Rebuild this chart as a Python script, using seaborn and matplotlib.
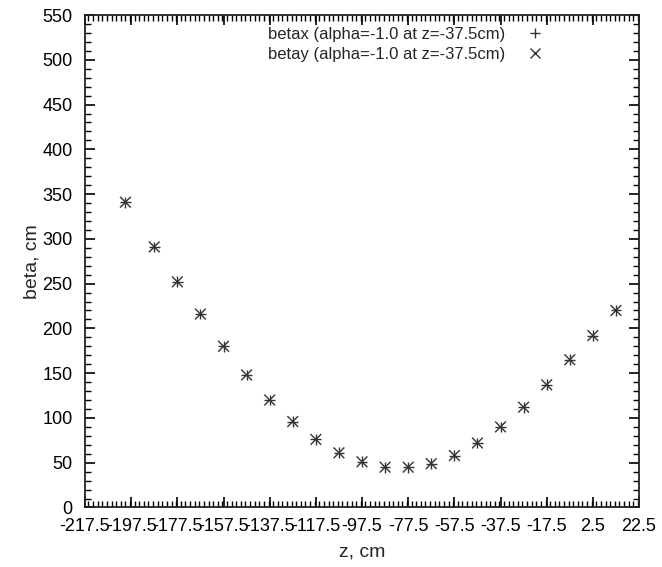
import numpy as np
import pandas as pd
import seaborn as sns
import matplotlib
matplotlib.use('Agg')
import matplotlib.pyplot as plt
from matplotlib.ticker import MultipleLocator, FixedLocator

# z positions (cm) and beta values
z = [-200.0, -187.5, -177.5, -167.5, -157.5, -147.5, -137.5, -127.5, -117.5, -107.5,
     -97.5, -87.5, -77.5, -67.5, -57.5, -47.5, -37.5, -27.5, -17.5, -7.5, 2.5, 12.5]
betax = [341, 291, 252, 216, 180, 148, 120, 96, 76, 61,
         51, 45, 45, 49, 58, 72, 90, 112, 137, 165, 192, 220]
betay = [341, 291, 252, 216, 180, 148, 120, 96, 76, 61,
         51, 45, 45, 49, 58, 72, 90, 112, 137, 165, 192, 220]
labels = ['betax (alpha=-1.0 at z=-37.5cm)', 'betay (alpha=-1.0 at z=-37.5cm)']
xticks = [-217.5, -197.5, -177.5, -157.5, -137.5, -117.5, -97.5, -77.5, -57.5, -37.5, -17.5, 2.5, 22.5]

df = pd.concat([
    pd.DataFrame({'z': z, 'beta': betax, 'series': labels[0]}),
    pd.DataFrame({'z': z, 'beta': betay, 'series': labels[1]}),
])

sns.set_style('ticks')
plt.rcParams['font.family'] = ['Liberation Sans', 'DejaVu Sans']

fig = plt.figure(figsize=(6.62, 5.67), dpi=100)
ax = fig.add_axes([0.1284, 0.105, 0.8369, 0.8685])

sns.scatterplot(data=df, x='z', y='beta', style='series',
                markers={labels[0]: '+', labels[1]: 'x'},
                color='#333333', s=60, linewidth=1.0, ax=ax, legend=True)

ax.set_xlim(-217.5, 22.5)
ax.set_ylim(0, 550)
ax.xaxis.set_major_locator(FixedLocator(xticks))
ax.set_xticklabels([f'{t:g}' for t in xticks])
ax.xaxis.set_minor_locator(MultipleLocator(2))
ax.yaxis.set_major_locator(MultipleLocator(50))
ax.yaxis.set_minor_locator(MultipleLocator(10))
ax.tick_params(which='both', direction='in', top=True, right=True, labelsize=13, colors='black')
ax.tick_params(which='major', length=7, width=1.2)
ax.tick_params(axis='x', which='major', pad=7.5)
ax.tick_params(axis='y', which='major', pad=9)
ax.tick_params(which='minor', length=4, width=1.0)
for sp in ax.spines.values():
    sp.set_linewidth(1.3)
    sp.set_color('#222222')

ax.set_xlabel('z, cm', fontsize=14, labelpad=6)
ax.set_ylabel('beta, cm', fontsize=14, labelpad=1)

leg = ax.legend(loc='upper right', frameon=False, markerfirst=False, fontsize=12,
                handletextpad=0.8, borderaxespad=0.3, labelspacing=0.3,
                bbox_to_anchor=(0.863, 1.0))

fig.savefig('out.png', dpi=100)
